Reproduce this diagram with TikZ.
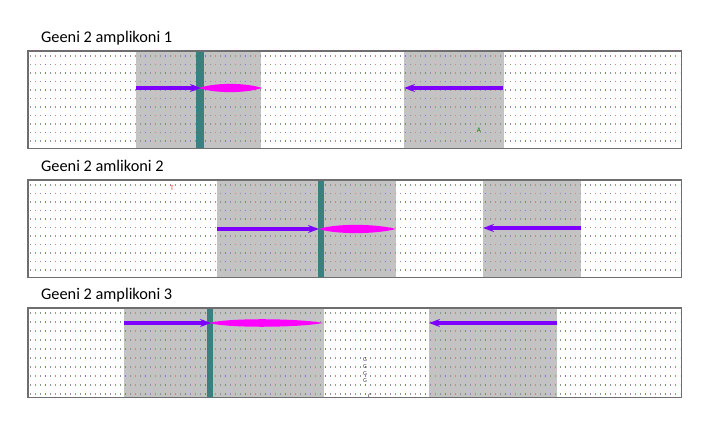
\documentclass[tikz,border=0pt]{standalone}
\usepackage{fontspec}
\setmainfont{Carlito}
\usetikzlibrary{arrows.meta}
\definecolor{tealbar}{RGB}{58,128,128}
\definecolor{fwd}{RGB}{125,0,255}
\definecolor{mag}{RGB}{255,0,255}
\definecolor{shade}{RGB}{195,195,195}
\definecolor{frame}{RGB}{110,110,110}
\newcommand\dotrows[3]{% x1, x2, list of y
  \foreach \yy in {#3} {
    \draw[line width=1.2pt,color=gray!85,dash pattern=on 1.2pt off 3.8pt] (#1,\yy) -- (#2,\yy);
    \draw[line width=1.2pt,color=red!55,dash pattern=on 1.2pt off 18.8pt,dash phase=-5pt] (#1,\yy) -- (#2,\yy);
    \draw[line width=1.2pt,color=blue!55,dash pattern=on 1.2pt off 18.8pt,dash phase=-15pt] (#1,\yy) -- (#2,\yy);
  }}
\tikzset{
  panel/.style={anchor=north west,fill=white,inner sep=0pt,minimum width=653pt},
  title/.style={anchor=base west,inner sep=0pt,font=\fontsize{16.3}{19}\selectfont},
  fwdarrow/.style={draw=fwd,line width=3.6pt,-{Stealth[length=11pt,width=8pt]}},
  revarrow/.style={draw=fwd,line width=3.6pt,-{Stealth[length=11pt,width=8pt]}},
  lens/.style={fill=mag},
  bar/.style={fill=tealbar},
  shaded/.style={fill=shade},
  border/.style={draw=frame,line width=1.6pt},
  tiny/.style={inner sep=0pt,font=\fontsize{7}{7}\selectfont},
  tinystack/.style={inner sep=0pt,align=center,font=\fontsize{6}{7}\selectfont}
}
\begin{document}
\begin{tikzpicture}[x=1pt,y=-1pt]
\useasboundingbox[fill=white] (0,0) rectangle (721,427);

% ---------- Panel 1 ----------
\node[title] (t1) at (41,42.5) {Geeni 2 amplikoni 1};
\node[panel,minimum height=97pt] (p1) at (28,51) {};
\fill[shaded] (136,51) rectangle (261,148);
\fill[shaded] (404,51) rectangle (504,148);
\dotrows{30}{680}{56,64.5,73,81.5,90,98.5,107,115.5,124,132.5,141}
\fill[bar] (196,51) rectangle (204,148);
\coordinate (a1s) at (136,88);
\coordinate (a1e) at (201,88);
\draw[fwdarrow] (a1s) -- (a1e);
\coordinate (m1s) at (199,88);
\coordinate (m1e) at (262,88);
\fill[lens] (m1s) .. controls (215,82.5) and (245,82.5) .. (m1e) .. controls (245,93.5) and (215,93.5) .. (m1s);
\coordinate (r1s) at (503,88);
\coordinate (r1e) at (404,88);
\draw[revarrow] (r1s) -- (r1e);
\node[tiny,text=green!50!black] (g1) at (479,130) {A};
\draw[border] (p1.north west) rectangle (p1.south east);

% ---------- Panel 2 ----------
\node[title] (t2) at (41,172) {Geeni 2 amlikoni 2};
\node[panel,minimum height=97pt] (p2) at (28,180) {};
\fill[shaded] (217,180) rectangle (396,277);
\fill[shaded] (483,180) rectangle (581,277);
\dotrows{30}{680}{185,193.5,202,210.5,219,227.5,236,244.5,253,261.5,270}
\fill[bar] (318,180) rectangle (324,277);
\coordinate (a2s) at (217,229);
\coordinate (a2e) at (319,229);
\draw[fwdarrow] (a2s) -- (a2e);
\coordinate (m2s) at (319,229);
\coordinate (m2e) at (396,229);
\fill[lens] (m2s) .. controls (335,223.5) and (375,223.5) .. (m2e) .. controls (375,234.5) and (335,234.5) .. (m2s);
\coordinate (r2s) at (581,228);
\coordinate (r2e) at (483,228);
\draw[revarrow] (r2s) -- (r2e);
\node[tiny,text=red!80] (g2) at (172,188) {T};
\draw[border] (p2.north west) rectangle (p2.south east);

% ---------- Panel 3 ----------
\node[title] (t3) at (41,300) {Geeni 2 amplikoni 3};
\node[panel,minimum height=89pt] (p3) at (28,308) {};
\fill[shaded] (124,308) rectangle (324,397);
\fill[shaded] (429,308) rectangle (557,397);
\dotrows{30}{680}{313,322,331,340,349,358,367,376,385,394}
\fill[bar] (207,308) rectangle (213,397);
\coordinate (a3s) at (124,323);
\coordinate (a3e) at (211,323);
\draw[fwdarrow] (a3s) -- (a3e);
\coordinate (m3s) at (209,323);
\coordinate (m3e) at (323,323);
\fill[lens] (m3s) .. controls (230,317.5) and (300,318.5) .. (m3e) .. controls (300,327.5) and (230,328.5) .. (m3s);
\coordinate (r3s) at (557,323);
\coordinate (r3e) at (429,323);
\draw[revarrow] (r3s) -- (r3e);
\node[tinystack,text=black!75] (g3) at (365,370.5) {G\\G\\G\\G};
\node[tiny,text=black!75] (g4) at (370,396) {C};
\draw[border] (p3.north west) rectangle (p3.south east);
\end{tikzpicture}
\end{document}
